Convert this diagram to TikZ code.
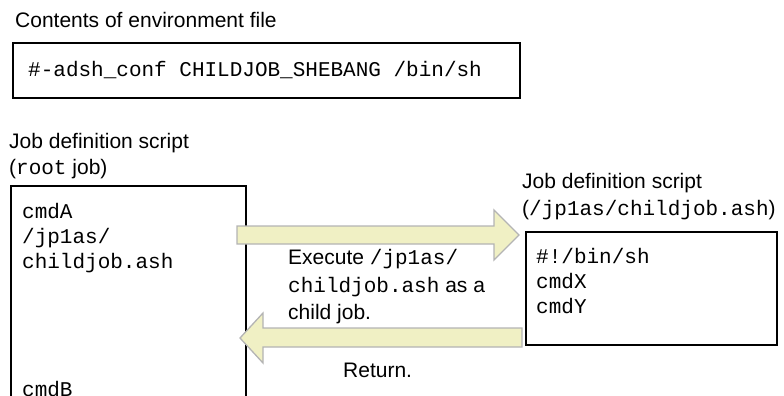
\documentclass[tikz,border=0pt]{standalone}
\usepackage{fontspec}
\setmainfont{Liberation Sans}
\setmonofont{Liberation Mono}
\definecolor{arrowfill}{RGB}{240,240,196}
\definecolor{arrowline}{RGB}{180,180,180}

\begin{document}
\begin{tikzpicture}[x=1pt,y=-1pt,
	txt/.style={font=\fontsize{21}{25}\selectfont,inner sep=0pt,anchor=base west},
	code/.style={font=\ttfamily\fontsize{21}{25}\selectfont,inner sep=0pt,anchor=base west},
	frame/.style={draw,line width=1.3pt},
	blockarrow/.style={fill=arrowfill,draw=arrowline,line width=1.3pt,line join=miter}]
	\useasboundingbox (0,0) rectangle (784,396);
	\clip (0,0) rectangle (784,396);
	% environment file
	\node[txt] (envtitle) at (15,28) {Contents of environment file};
	\draw[frame] (13,43) rectangle (520,98);
	\node[code] (envline) at (28,76) {\#-adsh\_conf CHILDJOB\_SHEBANG /bin/sh};
	% root job script
	\node[txt] (roottitle) at (9,148) {Job definition script};
	\node[txt] (rootname) at (9,174) {(\texttt{root} job)};
	\draw[frame] (11,186) rectangle (246,420);
	\node[code] (cmda) at (22,218) {cmdA};
	\node[code] (calla) at (22,243) {/jp1as/};
	\node[code] (callb) at (22,268) {childjob.ash};
	\node[code] (cmdb) at (22,396) {cmdB};
	% child job script
	\node[txt] (childtitle) at (522,188) {Job definition script};
	\node[txt] (childname) at (522,215) {(\texttt{/jp1as/childjob.ash})};
	\draw[frame] (526,232) rectangle (777,345);
	\node[code] (shebang) at (536,263) {\#!/bin/sh};
	\node[code] (cmdx) at (536,288) {cmdX};
	\node[code] (cmdy) at (536,313) {cmdY};
	% execute and return
	\draw[blockarrow] (237,226) -- (494,226) -- (494,210) -- (519,235) -- (494,260)
		-- (494,244) -- (237,244) -- cycle;
	\node[txt] (execa) at (288,264) {Execute \texttt{/jp1as/}};
	\node[txt] (execb) at (288,292) {\texttt{childjob.ash} as a};
	\node[txt] (execc) at (288,319) {child job.};
	\draw[blockarrow] (522,328) -- (263,328) -- (263,313) -- (240,338) -- (263,363)
		-- (263,347) -- (522,347) -- cycle;
	\node[txt] (ret) at (343,377) {Return.};
\end{tikzpicture}
\end{document}
